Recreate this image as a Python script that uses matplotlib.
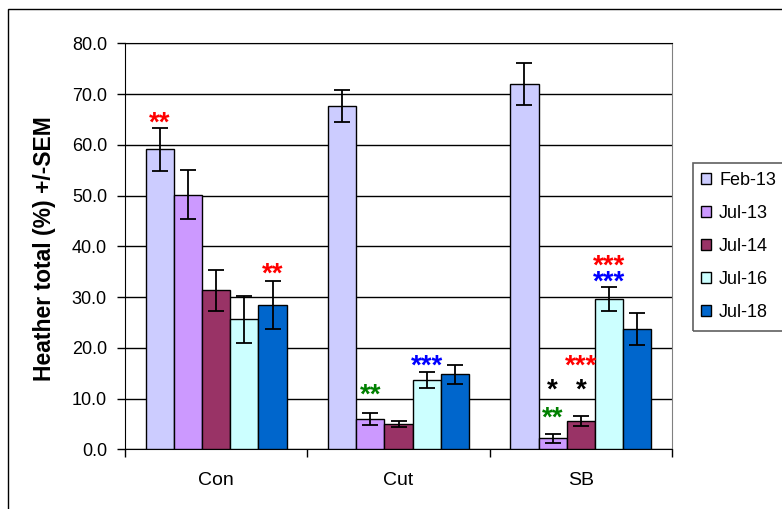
import numpy as np
import matplotlib.pyplot as plt
from matplotlib.patches import Rectangle
from matplotlib.ticker import FormatStrFormatter

plt.rcParams['font.family'] = ['Liberation Sans', 'DejaVu Sans']

sites = ['Con', 'Cut', 'SB']
dates = ['Feb-13', 'Jul-13', 'Jul-14', 'Jul-16', 'Jul-18']

# mean heather cover (%) per site, one list per survey date
feb13 = [59.1, 67.6, 72.0]
jul13 = [50.2, 6.0, 2.2]
jul14 = [31.3, 5.0, 5.6]
jul16 = [25.6, 13.6, 29.6]
jul18 = [28.5, 14.8, 23.7]

# SEM
feb13_sem = [4.2, 3.1, 4.1]
jul13_sem = [4.8, 1.2, 0.9]
jul14_sem = [4.1, 0.6, 1.0]
jul16_sem = [4.6, 1.6, 2.3]
jul18_sem = [4.7, 1.9, 3.2]

# significance stars: (text, colour, site index, date index, height)
stars = [
    ('**', 'red', 0, 0, 65.5),
    ('**', 'red', 0, 4, 35.8),
    ('**', 'green', 1, 1, 12.0),
    ('***', 'blue', 1, 3, 17.6),
    ('*', 'black', 2, 1, 13.0),
    ('*', 'black', 2, 2, 13.0),
    ('**', 'green', 2, 1, 7.4),
    ('***', 'red', 2, 2, 17.75),
    ('***', 'red', 2, 3, 37.3),
    ('***', 'blue', 2, 3, 34.2),
]

values = [feb13, jul13, jul14, jul16, jul18]
sems = [feb13_sem, jul13_sem, jul14_sem, jul16_sem, jul18_sem]
colours = ['#CCCCFF', '#CC99FF', '#993366', '#CCFFFF', '#0066CC']

W, H = 782, 509
fig = plt.figure(figsize=(W / 100, H / 100), dpi=100)
ax = fig.add_axes([125 / W, 59.7 / H, 547 / W, 406 / H])

x = np.arange(len(sites))
group = 0.773
w = group / len(dates)

def bar_pos(i):
    return x - group / 2 + w * (i + 0.5)

for i in range(len(dates)):
    pos = bar_pos(i)
    ax.bar(pos, values[i], w, color=colours[i], edgecolor='black', linewidth=1,
           label=dates[i], zorder=3)
    ax.errorbar(pos, values[i], yerr=sems[i], fmt='none', ecolor='black',
                elinewidth=1.3, capsize=5.5, capthick=1.3, zorder=4)

for txt, col, g, s, yy in stars:
    ax.annotate(txt, (bar_pos(s)[g], yy), xytext=(0, -5), textcoords='offset points',
                ha='center', va='center', color=col, fontsize=20, fontweight='bold',
                zorder=5)

ax.set_xlim(-0.5, 2.5)
ax.set_ylim(0, 80)
ax.set_yticks(np.arange(0, 81, 10))
ax.yaxis.set_major_formatter(FormatStrFormatter('%.1f'))
ax.yaxis.grid(True, color='black', linewidth=1)
ax.set_axisbelow(True)

ax.set_xticks(x, sites)
ax.set_xticks(np.arange(-0.5, 3, 1), minor=True)
ax.tick_params(axis='x', which='major', length=0, pad=16, labelsize=14)
ax.tick_params(axis='x', which='minor', length=6, width=1, direction='out')
ax.tick_params(axis='y', length=6, width=1, pad=7, labelsize=13)

for side in ['left', 'bottom', 'top']:
    ax.spines[side].set_color('black')
ax.spines['right'].set_color('#808080')

fig.text(45 / W, 1 - 248.5 / H, 'Heather total (%) +/-SEM', rotation=90,
         ha='center', va='center', fontsize=16.5, fontweight='bold')

handles, labels = ax.get_legend_handles_labels()
fig.legend(handles, labels, loc='upper left', bbox_to_anchor=(701 / W, 1 - 172 / H),
           frameon=False, fontsize=13, handlelength=0.55, handleheight=0.55,
           handletextpad=0.45, labelspacing=0.88, borderaxespad=0, borderpad=0)
fig.add_artist(Rectangle((693 / W, 1 - 331 / H), 0.5, 168 / H, transform=fig.transFigure,
                         fill=False, edgecolor='#606060', linewidth=1.2))

# outer chart border
fig.add_artist(Rectangle((8 / W, -0.5), 2, 1.5 - 9.3 / H, transform=fig.transFigure,
                         fill=False, edgecolor='black', linewidth=1))

fig.savefig('out.png', dpi=100)
